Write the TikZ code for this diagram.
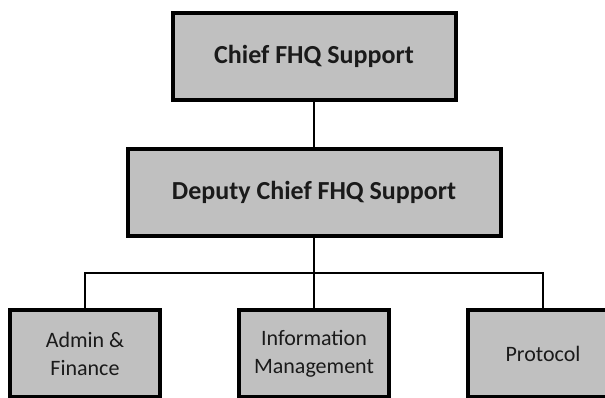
\documentclass[tikz,border=0pt]{standalone}
\usepackage{fontspec}
\setmainfont{Carlito}
\usetikzlibrary{positioning,calc}
\definecolor{boxgray}{HTML}{C0C0C0}
\definecolor{textgray}{HTML}{1A1A1A}

\begin{document}
\begin{tikzpicture}[x=1pt,y=1pt]

    \tikzstyle{box}=[draw, rectangle, fill=boxgray, line width=4pt, text=textgray, align=center];
    \tikzstyle{headbox}=[box, minimum height=87pt, font=\fontsize{26}{30}\selectfont\bfseries];
    \tikzstyle{unitbox}=[box, minimum height=87pt, minimum width=150pt, font=\fontsize{22}{28}\selectfont];
    \tikzstyle{link}=[draw, line width=2.8pt, line join=miter];

    \begin{scope}
      \useasboundingbox (0,0) rectangle (605,-398);

      \node (chief) at (314,-56.5) [headbox, minimum width=283pt]{Chief FHQ Support};
      \node (deputy) [below=45pt of chief, headbox, minimum width=373pt]{Deputy Chief FHQ Support};

      \node (infomgmt) [below=70pt of deputy, unitbox]{Information\\Management};
      \node (admin) [left=75pt of infomgmt, unitbox]{Admin \&\\Finance};
      \node (protocol) [right=75pt of infomgmt, unitbox]{Protocol};

      \coordinate (bus) at ($(deputy.south)!0.5!(infomgmt.north)$);

      \draw [link] (chief) -- (deputy);
      \draw [link] (deputy) -- (bus);
      \draw [link] (bus) -| (admin);
      \draw [link] (bus) -| (protocol);
      \draw [link] (bus) -- (infomgmt);

    \end{scope}
\end{tikzpicture}
\end{document}
